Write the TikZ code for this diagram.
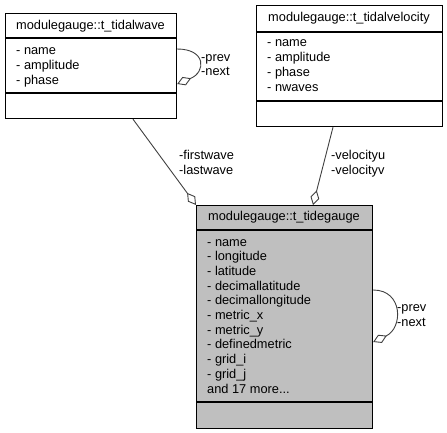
\documentclass[tikz,border=0pt]{standalone}
\usepackage{fontspec}
\setmainfont{Liberation Sans}
\usetikzlibrary{arrows.meta}

\begin{document}
\begin{tikzpicture}[x=1pt, y=-1pt,
    classbox/.style={draw=black, line width=1.2pt, inner sep=0pt, anchor=north west},
    gaugebox/.style={classbox, fill=black!25},
    sepline/.style={draw=black, line width=1.2pt},
    classtitle/.style={font=\fontsize{12.8}{14.7}\selectfont, inner sep=0pt, anchor=base},
    attr/.style={font=\fontsize{12.8}{14.7}\selectfont, inner sep=0pt, anchor=base west},
    role/.style={attr},
    assoc/.style={draw=black!75, line width=0.9pt, -{Diamond[open, fill=white, length=15pt, width=9pt]}}
    ]
        \useasboundingbox (0,0) rectangle (447,433);

        %Nodes
        \node[classbox, minimum width=171pt, minimum height=105pt]
            (wave)  at (5,13)    {};
        \node[classbox, minimum width=186pt, minimum height=121pt]
            (velo)  at (256,5)   {};
        \node[gaugebox, minimum width=176pt, minimum height=223pt]
            (gauge) at (196,205) {};

        \draw[sepline] (wave.west |- 0,38) -- (wave.east |- 0,38);
        \draw[sepline] (wave.west |- 0,93) -- (wave.east |- 0,93);
        \draw[sepline] (velo.west |- 0,32) -- (velo.east |- 0,32);
        \draw[sepline] (velo.west |- 0,101) -- (velo.east |- 0,101);
        \draw[sepline] (gauge.west |- 0,230) -- (gauge.east |- 0,230);
        \draw[sepline] (gauge.west |- 0,402) -- (gauge.east |- 0,402);

        %Texts
        \node[classtitle] (wave-title)  at (90.5,29.5) {modulegauge::t\_tidalwave};
        \node[classtitle] (velo-title)  at (349,22)    {modulegauge::t\_tidalvelocity};
        \node[classtitle] (gauge-title) at (284,220)   {modulegauge::t\_tidegauge};

        \foreach \txt [count=\i] in {name, amplitude, phase}
            \node[attr] (wave-a\i) at (16, 40.3+14.7*\i) {- \txt};
        \foreach \txt [count=\i] in {name, amplitude, phase, nwaves}
            \node[attr] (velo-a\i) at (267, 32.3+14.7*\i) {- \txt};
        \foreach \txt [count=\i] in {name, longitude, latitude, decimallatitude,
                decimallongitude, metric\_x, metric\_y, definedmetric, grid\_i, grid\_j}
            \node[attr] (gauge-a\i) at (207, 231.3+14.7*\i) {- \txt};
        \node[attr] (gauge-more) at (207,393) {and 17 more...};

        %Lines
        \draw[assoc] (wave.south -| 133,0) -- (gauge.north west);
        \draw[assoc] (velo.south -| 333,0) -- (gauge.north -| 313,0);
        \draw[assoc] (wave.east |- 0,49) .. controls +(29,0) and +(29,-12) .. (wave.east |- 0,84);
        \draw[assoc] (gauge.east |- 0,290) .. controls +(30,0) and +(30,-14) .. (gauge.east |- 0,342);

        %Labels
        \node[role] (wave-prev)  at (201,61.5)  {-prev};
        \node[role] (wave-next)  at (201,76)    {-next};
        \node[role] (gauge-prev) at (397,311.5) {-prev};
        \node[role] (gauge-next) at (397,326)   {-next};
        \node[role] (first-lbl)  at (179,160)   {-firstwave};
        \node[role] (last-lbl)   at (179,175)   {-lastwave};
        \node[role] (velu-lbl)   at (331,160)   {-velocityu};
        \node[role] (velv-lbl)   at (331,175)   {-velocityv};
    \end{tikzpicture}
\end{document}
